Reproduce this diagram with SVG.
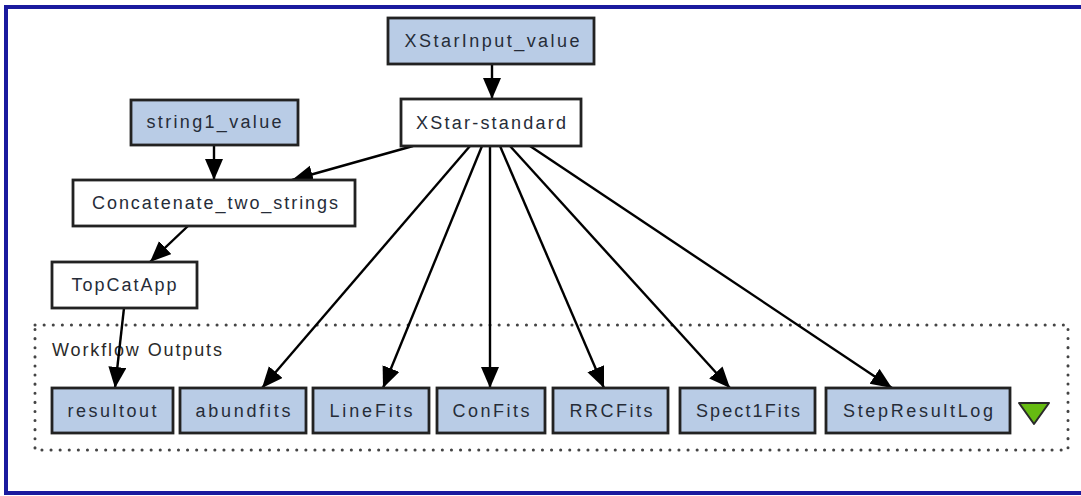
<svg xmlns="http://www.w3.org/2000/svg" width="1081" height="496" viewBox="0 0 1081 496">
  <defs>
    <marker id="arrow" markerUnits="userSpaceOnUse" markerWidth="24" markerHeight="20" refX="21" refY="9" orient="auto">
      <path d="M0,0 L21,9 L0,18 Z" fill="#000"/>
    </marker>
    <style>
      .frame { fill: #fff; stroke: #1a1a9e; stroke-width: 4; }
      .box { stroke: #222; stroke-width: 2.8; }
      .input, .output { fill: #b9cce6; }
      .proc { fill: #fff; }
      .lbl { font-family: "Liberation Sans", Arial, sans-serif; font-size: 18px; fill: #262c38; text-anchor: middle; }
      .cluster { fill: none; stroke: #444; stroke-width: 3; stroke-dasharray: 0.1 9; stroke-linecap: round; }
      .clbl { font-family: "Liberation Sans", Arial, sans-serif; font-size: 18px; fill: #2a2a2a; }
      .edge { stroke: #000; stroke-width: 2.4; fill: none; marker-end: url(#arrow); }
    </style>
  </defs>

  <!-- window frame -->
  <rect class="frame" x="6" y="7" width="1100" height="486"/>

  <!-- workflow outputs cluster -->
  <g id="cluster_outputs">
    <rect class="cluster" x="35" y="325" width="1033" height="125"/>
    <text class="clbl" x="52" y="356" textLength="170" lengthAdjust="spacing">Workflow Outputs</text>
  </g>

  <!-- connectors -->
  <g id="edges">
    <line class="edge" x1="492" y1="64" x2="492" y2="99"/>
    <line class="edge" x1="214" y1="145" x2="214" y2="180"/>
    <line class="edge" x1="413" y1="146" x2="292" y2="180"/>
    <line class="edge" x1="188" y1="226" x2="150" y2="262"/>
    <line class="edge" x1="124" y1="308" x2="115" y2="388"/>
    <line class="edge" x1="470" y1="146" x2="262" y2="388"/>
    <line class="edge" x1="482" y1="146" x2="383" y2="388"/>
    <line class="edge" x1="490" y1="146" x2="490" y2="388"/>
    <line class="edge" x1="500" y1="146" x2="604" y2="388"/>
    <line class="edge" x1="510" y1="146" x2="730" y2="388"/>
    <line class="edge" x1="530" y1="146" x2="892" y2="388"/>
  </g>

  <!-- nodes -->
  <g id="XStarInput_value">
    <rect class="box input" x="388" y="18" width="206" height="46"/>
    <text class="lbl" x="492" y="47" textLength="175" lengthAdjust="spacing">XStarInput_value</text>
  </g>
  <g id="XStar-standard">
    <rect class="box proc" x="401" y="99" width="180" height="47"/>
    <text class="lbl" x="491" y="129" textLength="150" lengthAdjust="spacing">XStar-standard</text>
  </g>
  <g id="string1_value">
    <rect class="box input" x="131" y="100" width="167" height="45"/>
    <text class="lbl" x="214" y="128" textLength="135" lengthAdjust="spacing">string1_value</text>
  </g>
  <g id="Concatenate_two_strings">
    <rect class="box proc" x="73" y="180" width="282" height="46"/>
    <text class="lbl" x="215" y="209" textLength="246" lengthAdjust="spacing">Concatenate_two_strings</text>
  </g>
  <g id="TopCatApp">
    <rect class="box proc" x="52" y="262" width="145" height="46"/>
    <text class="lbl" x="124" y="291" textLength="105" lengthAdjust="spacing">TopCatApp</text>
  </g>

  <g id="resultout">
    <rect class="box output" x="52" y="388" width="121" height="45"/>
    <text class="lbl" x="112" y="417" textLength="89" lengthAdjust="spacing">resultout</text>
  </g>
  <g id="abundfits">
    <rect class="box output" x="180" y="388" width="126" height="45"/>
    <text class="lbl" x="243" y="417" textLength="95" lengthAdjust="spacing">abundfits</text>
  </g>
  <g id="LineFits">
    <rect class="box output" x="313" y="388" width="116" height="45"/>
    <text class="lbl" x="371" y="417" textLength="83" lengthAdjust="spacing">LineFits</text>
  </g>
  <g id="ConFits">
    <rect class="box output" x="437" y="388" width="108" height="45"/>
    <text class="lbl" x="491" y="417" textLength="77" lengthAdjust="spacing">ConFits</text>
  </g>
  <g id="RRCFits">
    <rect class="box output" x="553" y="388" width="115" height="45"/>
    <text class="lbl" x="611" y="417" textLength="83" lengthAdjust="spacing">RRCFits</text>
  </g>
  <g id="Spect1Fits">
    <rect class="box output" x="680" y="388" width="135" height="45"/>
    <text class="lbl" x="748" y="417" textLength="104" lengthAdjust="spacing">Spect1Fits</text>
  </g>
  <g id="StepResultLog">
    <rect class="box output" x="826" y="388" width="184" height="45"/>
    <text class="lbl" x="918" y="417" textLength="150" lengthAdjust="spacing">StepResultLog</text>
  </g>

  <!-- collapse toggle -->
  <g id="toggle">
    <path d="M1019,403 L1049,403 L1034,424 Z" fill="#66bb11" stroke="#2a2a2a" stroke-width="2" stroke-linejoin="round"/>
  </g>
</svg>
